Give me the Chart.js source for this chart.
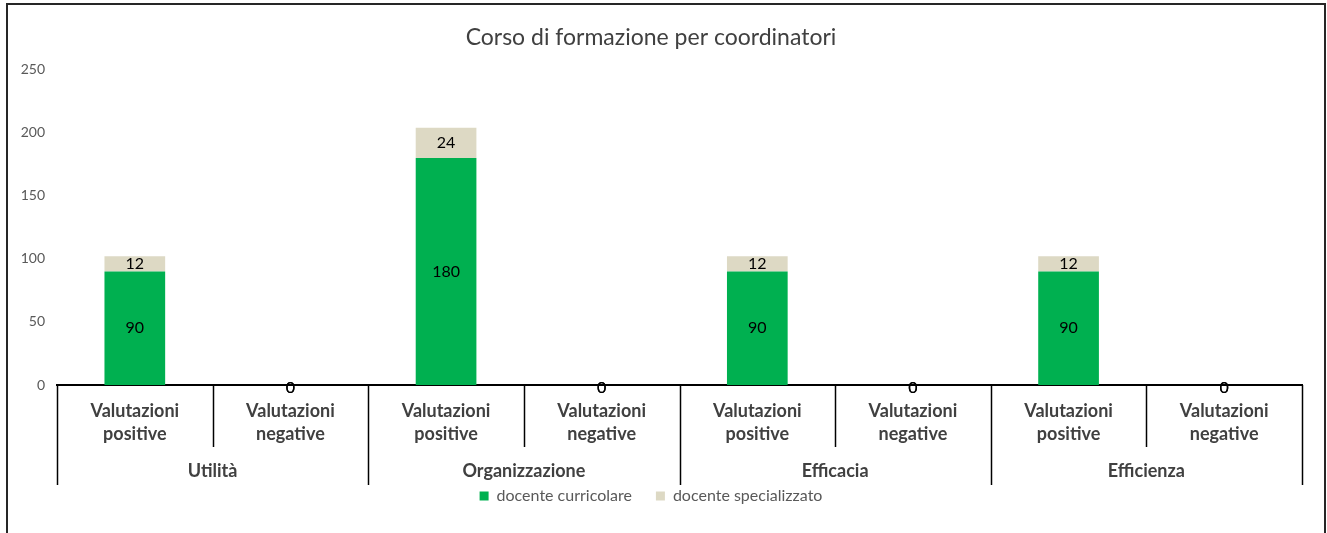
<!DOCTYPE html>
<html>
<head>
<meta charset="utf-8">
<title>Corso di formazione per coordinatori</title>
<script src="https://cdn.jsdelivr.net/npm/chart.js@4.4.1/dist/chart.umd.min.js"></script>
<style>
	html, body { margin: 0; padding: 0; background: #fff; }
	#wrap { position: relative; width: 1327px; height: 533px; }
</style>
</head>
<body>
<div id="wrap"><canvas id="chart"></canvas></div>
<script>
// --- data ---------------------------------------------------------------
var groups = ['Utilità', 'Organizzazione', 'Efficacia', 'Efficienza'];
var subCategories = [['Valutazioni', 'positive'], ['Valutazioni', 'negative']];
var curricolare   = [90, 0, 180, 0, 90, 0, 90, 0];
var specializzato = [12, 0, 24, 0, 12, 0, 12, 0];
var yTicks = [0, 50, 100, 150, 200, 250];

var categories = [];
groups.forEach(function (g) {
	subCategories.forEach(function (s) { categories.push(s.join(' ') + ' - ' + g); });
});

var FONT = 'Lato, "Open Sans", sans-serif';

// frame + two-level category axis, Excel style
var multiAxis = {
	id: 'multiAxis',
	beforeDraw: function (chart) {
		var ctx = chart.ctx;
		ctx.save();
		ctx.strokeStyle = '#262626';
		ctx.lineWidth = 2;
		ctx.strokeRect(7, 4, 1318, 600);
		ctx.restore();
	},
	afterDraw: function (chart) {
		var ctx = chart.ctx;
		var x = chart.scales.x;
		var y0 = chart.scales.y.getPixelForValue(0);
		var n = categories.length;
		var step = (x.right - x.left) / n;
		ctx.save();
		ctx.strokeStyle = '#000';
		ctx.lineWidth = 1.5;
		for (var i = 0; i <= n; i++) {
			var bx = Math.round(x.left + i * step) + 0.5;
			var len = (i % subCategories.length === 0) ? 100 : 62;
			ctx.beginPath();
			ctx.moveTo(bx, y0);
			ctx.lineTo(bx, y0 + len);
			ctx.stroke();
		}
		ctx.fillStyle = '#404040';
		ctx.font = 'bold 18px ' + FONT;
		ctx.textAlign = 'center';
		ctx.textBaseline = 'middle';
		for (var j = 0; j < n; j++) {
			var cx = x.getPixelForValue(j);
			var lines = subCategories[j % subCategories.length];
			ctx.fillText(lines[0], cx, y0 + 26);
			ctx.fillText(lines[1], cx, y0 + 49);
		}
		groups.forEach(function (g, k) {
			var gx = x.left + (k + 0.5) * step * subCategories.length;
			ctx.fillText(g, gx, y0 + 86);
		});
		ctx.restore();
	},
	afterDatasetsDraw: function (chart) {
		var ctx = chart.ctx;
		ctx.save();
		ctx.fillStyle = '#000';
		ctx.font = '16px ' + FONT;
		ctx.textAlign = 'center';
		ctx.textBaseline = 'middle';
		chart.data.datasets.forEach(function (ds, di) {
			chart.getDatasetMeta(di).data.forEach(function (bar, i) {
				var v = ds.data[i];
				if (v === null) return;
				var cy = (bar.y + bar.base) / 2;
				if (v === 0) cy += 3;
				ctx.fillText(String(v), bar.x, cy);
			});
		});
		ctx.restore();
	}
};

new Chart(document.getElementById('chart'), {
	type: 'bar',
	data: {
		labels: categories,
		datasets: [
			{ label: 'docente curricolare', data: curricolare, backgroundColor: '#00B050' },
			{ label: 'docente specializzato', data: specializzato, backgroundColor: '#DDD9C4' }
		]
	},
	options: {
		responsive: true,
		maintainAspectRatio: false,
		animation: false,
		categoryPercentage: 1,
		barPercentage: 0.39,
		layout: { padding: { top: 10, right: 25, bottom: 19, left: 0 } },
		plugins: {
			title: {
				display: true,
				text: 'Corso di formazione per coordinatori',
				color: '#404040',
				font: { family: FONT, size: 23, weight: 'normal' },
				padding: { top: 14, bottom: 18 }
			},
			legend: {
				position: 'bottom',
				labels: {
					boxWidth: 9, boxHeight: 9, padding: 24,
					color: '#595959',
					font: { family: FONT, size: 16 }
				}
			},
			tooltip: { enabled: false }
		},
		scales: {
			x: {
				stacked: true,
				grid: { display: false },
				border: { display: true, color: '#000', width: 2 },
				ticks: { display: false },
				afterFit: function (s) { s.height = 79; }
			},
			y: {
				stacked: true,
				min: 0,
				max: 250,
				afterBuildTicks: function (s) { s.ticks = yTicks.map(function (v) { return { value: v }; }); },
				grid: { display: false, drawTicks: false },
				border: { display: false },
				ticks: { padding: 12, color: '#595959', font: { family: FONT, size: 14 } },
				afterFit: function (s) { s.width = 57; }
			}
		}
	},
	plugins: [multiAxis]
});
</script>
</body>
</html>
